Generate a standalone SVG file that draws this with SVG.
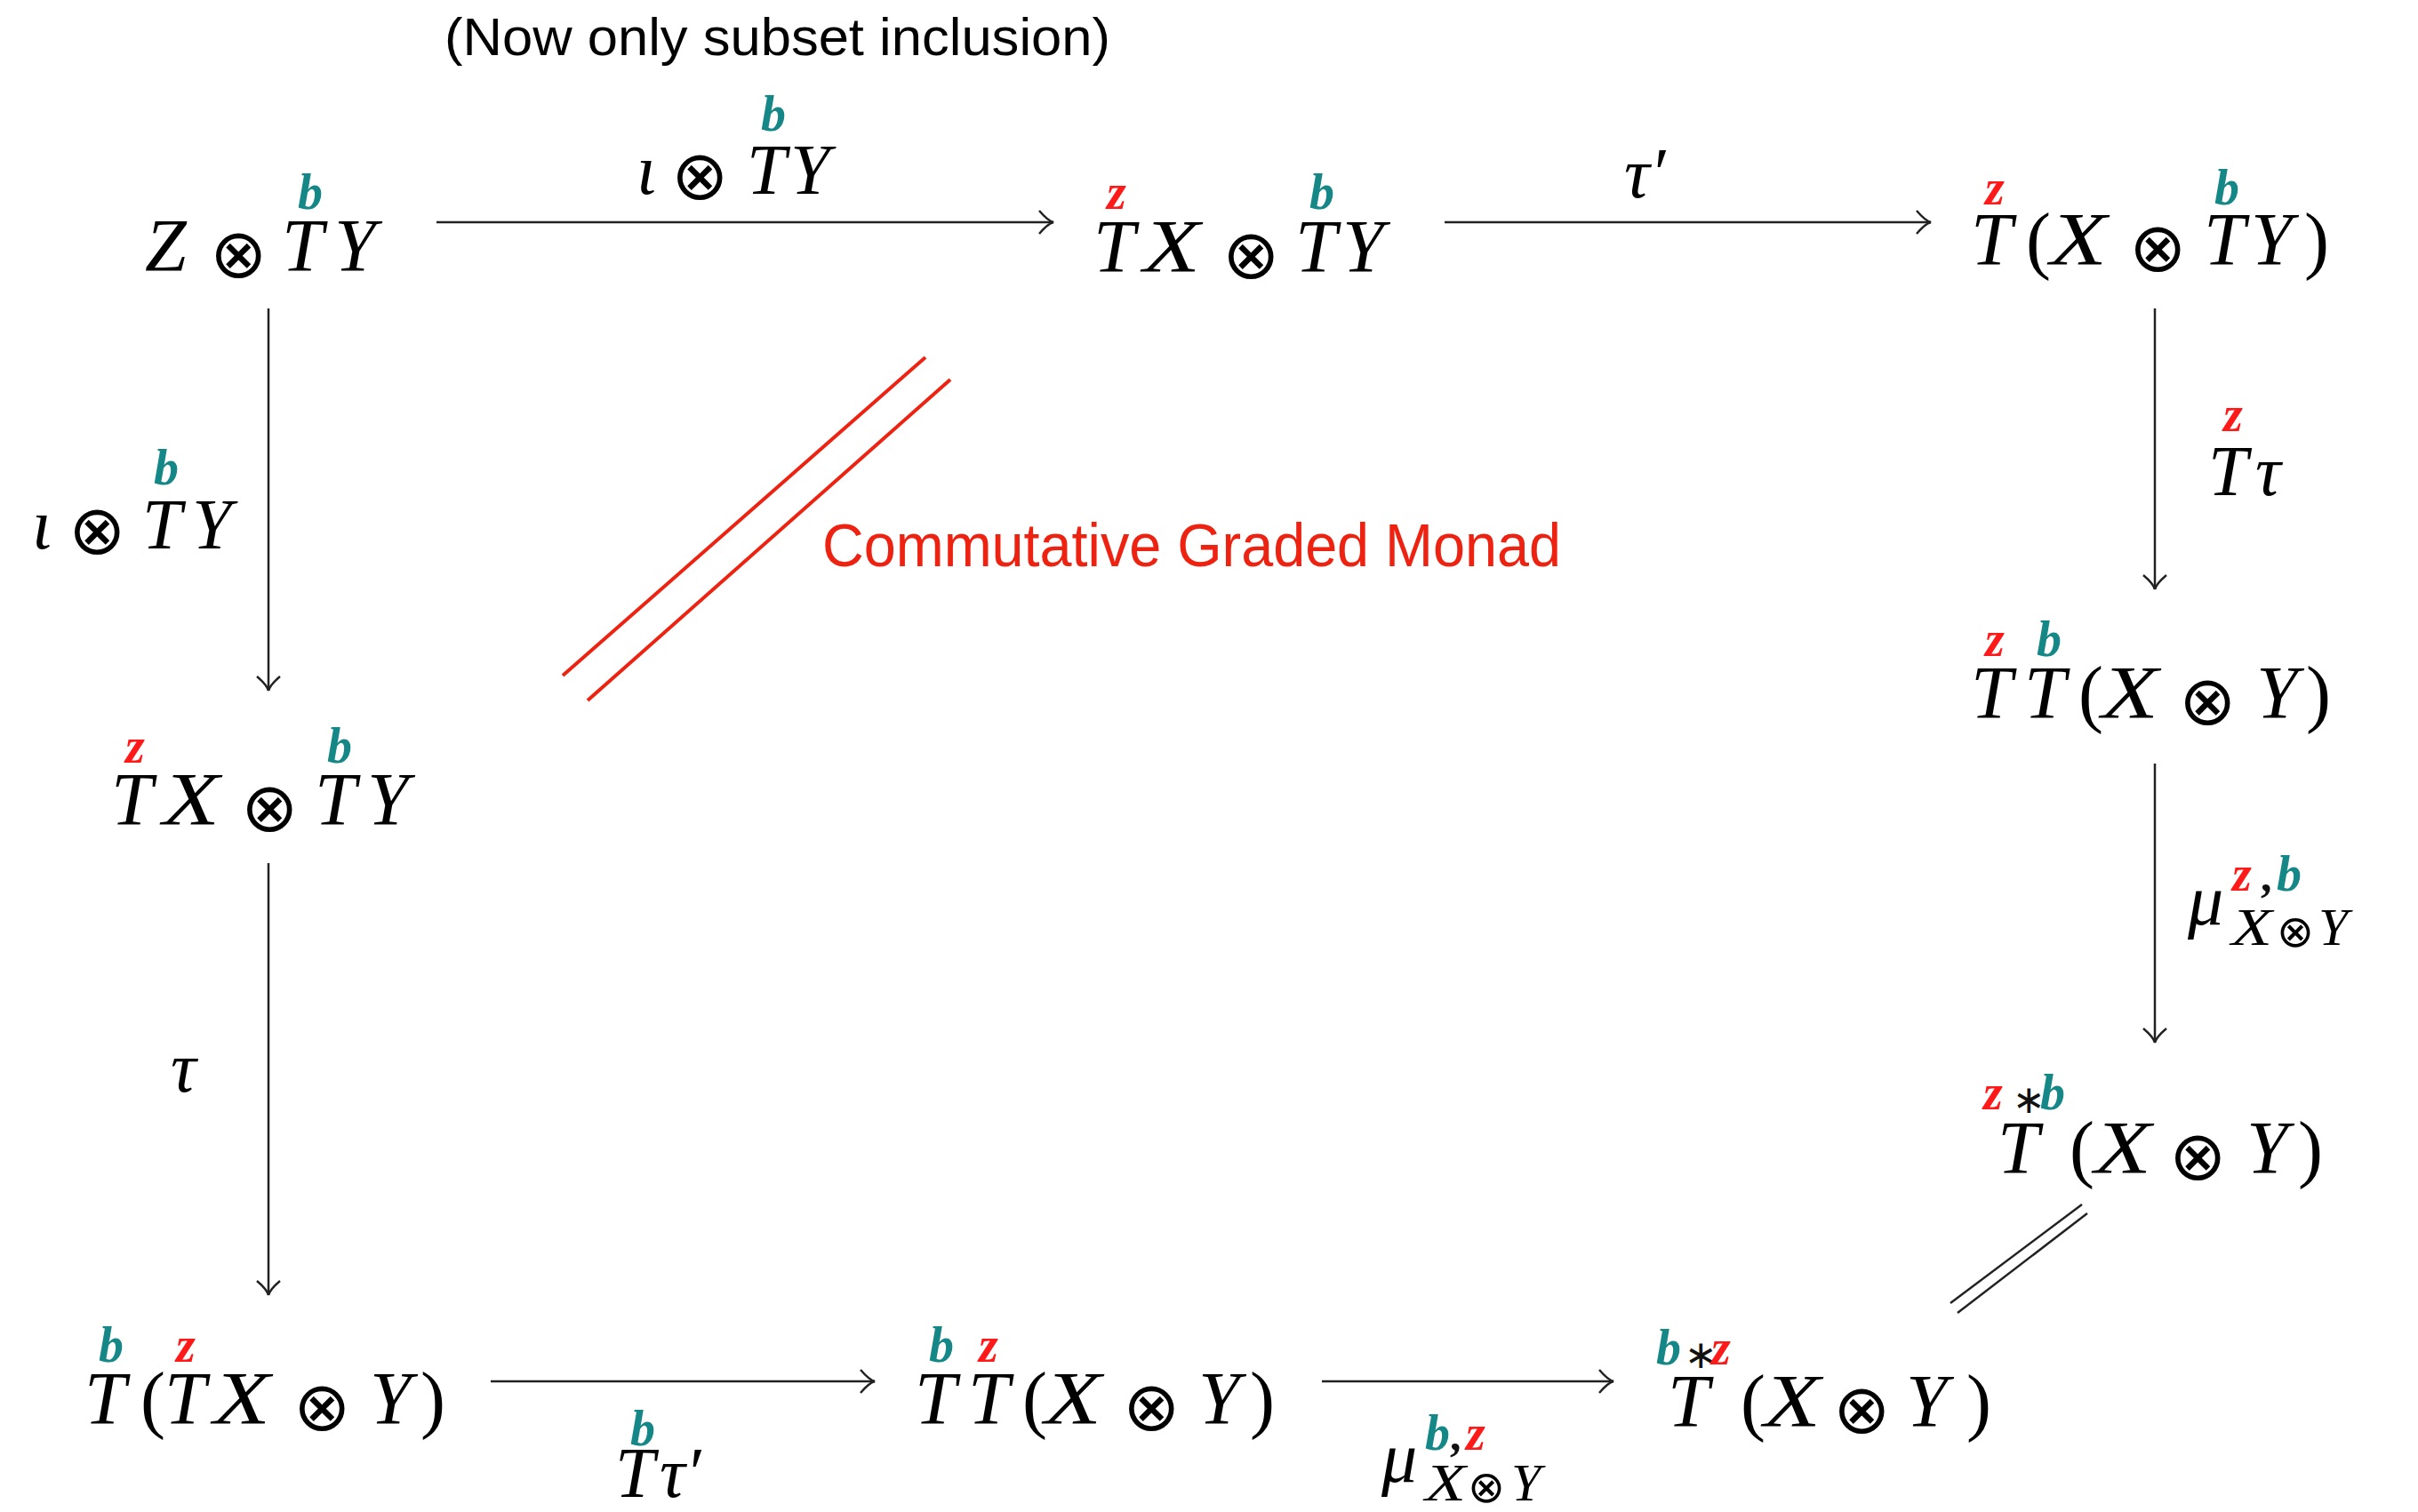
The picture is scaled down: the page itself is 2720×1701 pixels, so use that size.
<svg xmlns="http://www.w3.org/2000/svg" width="2720" height="1701" viewBox="0 0 2720 1701">
<defs>
<style>
.m{font-family:"Liberation Serif","DejaVu Serif",serif;font-style:italic;font-size:84px;fill:#000}
.u{font-family:"Liberation Serif","DejaVu Serif",serif;font-style:normal;font-size:84px;fill:#000}
.l{font-family:"Liberation Serif","DejaVu Serif",serif;font-style:italic;font-size:80px;fill:#000}
.s{font-family:"Liberation Serif","DejaVu Serif",serif;font-style:italic;font-size:60px;fill:#000}
.o{font-family:"DejaVu Sans",sans-serif;font-style:normal;font-size:77px;fill:#000}
.os{font-family:"DejaVu Sans",sans-serif;font-style:normal;font-size:50px;fill:#000}
.b{font-family:"Liberation Serif","DejaVu Serif",serif;font-style:italic;font-weight:bold;font-size:56px;fill:#168787}
.z{font-family:"Liberation Serif","DejaVu Serif",serif;font-style:italic;font-weight:bold;font-size:56px;fill:#ff1a1a}
.k{font-family:"Liberation Serif","DejaVu Serif",serif;font-style:normal;font-weight:bold;font-size:50px;fill:#111}
.st{font-family:"DejaVu Sans",sans-serif;font-style:normal;font-size:44px;fill:#111}
.ar{stroke:#222;stroke-width:2.5;fill:none;marker-end:url(#ah)}
.red{stroke:#ee2211;stroke-width:4;fill:none}
.dl{stroke:#222;stroke-width:2.5;fill:none}
.note{font-family:"Liberation Sans","Arial",sans-serif;font-size:60px;fill:#000}
.rnote{font-family:"Liberation Sans","Arial",sans-serif;font-size:68px;fill:#ee2211}
</style>
<marker id="ah" markerUnits="userSpaceOnUse" markerWidth="40" markerHeight="40" viewBox="-20 -20 40 40" refX="0" refY="0" orient="auto">
<path d="M -16 -13 C -10 -6 -4 -1 0 0 C -4 1 -10 6 -16 13" stroke="#222" stroke-width="2.5" fill="none"/>
</marker>
</defs>
<rect width="2720" height="1701" fill="#fff"/>

<text class="note" x="500" y="62" textLength="749" lengthAdjust="spacingAndGlyphs">(Now only subset inclusion)</text>

<g id="connectors">
<line class="ar" x1="491" y1="250" x2="1185" y2="250"/>
<line class="ar" x1="1625" y1="250" x2="2172" y2="250"/>
<line class="ar" x1="2424" y1="347" x2="2424" y2="663"/>
<line class="ar" x1="2424" y1="859" x2="2424" y2="1173"/>
<line class="ar" x1="302" y1="347" x2="302" y2="777"/>
<line class="ar" x1="302" y1="971" x2="302" y2="1457"/>
<line class="ar" x1="552" y1="1554" x2="984" y2="1554"/>
<line class="ar" x1="1487" y1="1554" x2="1815" y2="1554"/>
<line class="dl" x1="2342" y1="1355" x2="2194" y2="1466"/>
<line class="dl" x1="2348" y1="1365" x2="2202" y2="1477"/>
</g>

<g id="labels">
<g id="lab-top1">
<text class="l" x="716" y="218">ι</text>
<text class="o" x="755" y="224">⊗</text>
<text class="l" x="840" y="218">T</text>
<text class="l" x="889" y="218">Y</text>
<text class="b" x="856" y="147">b</text>
</g>
<g id="lab-top2">
<text class="l" x="1827" y="222">τ′</text>
</g>
<g id="lab-right1">
<text class="l" x="2484" y="557">T</text>
<text class="l" x="2537" y="557">τ</text>
<text class="z" x="2501" y="485">z</text>
</g>
<g id="lab-right2">
<text class="l" x="2461" y="1040">μ</text>
<text class="s" x="2510" y="1063" textLength="46" lengthAdjust="spacingAndGlyphs">X</text>
<text class="os" x="2561" y="1065">⊗</text>
<text class="s" x="2608" y="1063">Y</text>
<text class="z" x="2511" y="1002">z</text>
<text class="k" x="2543" y="1002">,</text>
<text class="b" x="2561" y="1002">b</text>
</g>
<g id="lab-left1">
<text class="l" x="36" y="617">ι</text>
<text class="o" x="77" y="623">⊗</text>
<text class="l" x="160" y="617">T</text>
<text class="l" x="216" y="617">Y</text>
<text class="b" x="173" y="545">b</text>
</g>
<g id="lab-left2">
<text class="l" x="192" y="1228">τ</text>
</g>
<g id="lab-bot1">
<text class="l" x="692" y="1684">T</text>
<text class="l" x="742" y="1684">τ′</text>
<text class="b" x="709" y="1626">b</text>
</g>
<g id="lab-bot2">
<text class="l" x="1554" y="1667">μ</text>
<text class="s" x="1603" y="1688" textLength="46" lengthAdjust="spacingAndGlyphs">X</text>
<text class="os" x="1651" y="1690">⊗</text>
<text class="s" x="1700" y="1688">Y</text>
<text class="b" x="1603" y="1631">b</text>
<text class="k" x="1631" y="1631">,</text>
<text class="z" x="1649" y="1631">z</text>
</g>
</g>

<g id="nodeA">
<text class="m" x="163" y="305">Z</text>
<text class="o" x="236" y="312">⊗</text>
<text class="m" x="317" y="305">T</text>
<text class="m" x="376" y="305">Y</text>
<text class="b" x="335" y="235">b</text>
</g>

<g id="nodeB">
<text class="m" x="1230" y="306">T</text>
<text class="m" x="1286" y="306" textLength="64" lengthAdjust="spacingAndGlyphs">X</text>
<text class="o" x="1375" y="313">⊗</text>
<text class="m" x="1457" y="306">T</text>
<text class="m" x="1510" y="306">Y</text>
<text class="z" x="1245" y="235">z</text>
<text class="b" x="1473" y="235">b</text>
</g>

<g id="nodeC">
<text class="m" x="2217" y="298">T</text>
<text class="u" x="2279" y="298">(</text>
<text class="m" x="2306" y="298" textLength="64" lengthAdjust="spacingAndGlyphs">X</text>
<text class="o" x="2395" y="305">⊗</text>
<text class="m" x="2479" y="298">T</text>
<text class="m" x="2532" y="298">Y</text>
<text class="u" x="2592" y="298">)</text>
<text class="z" x="2233" y="230">z</text>
<text class="b" x="2491" y="230">b</text>
</g>

<g id="nodeD">
<text class="m" x="2217" y="808">T</text>
<text class="m" x="2277" y="808">T</text>
<text class="u" x="2338" y="808">(</text>
<text class="m" x="2364" y="808" textLength="64" lengthAdjust="spacingAndGlyphs">X</text>
<text class="o" x="2451" y="815">⊗</text>
<text class="m" x="2538" y="808">Y</text>
<text class="u" x="2594" y="808">)</text>
<text class="z" x="2233" y="738">z</text>
<text class="b" x="2291" y="738">b</text>
</g>

<g id="nodeE">
<text class="m" x="2247" y="1320">T</text>
<text class="u" x="2328" y="1320">(</text>
<text class="m" x="2356" y="1320" textLength="64" lengthAdjust="spacingAndGlyphs">X</text>
<text class="o" x="2440" y="1327">⊗</text>
<text class="m" x="2527" y="1320">Y</text>
<text class="u" x="2585" y="1320">)</text>
<text class="z" x="2231" y="1248">z</text>
<text class="st" x="2264" y="1252">∗</text>
<text class="b" x="2295" y="1248">b</text>
</g>

<g id="nodeL2">
<text class="m" x="125" y="928">T</text>
<text class="m" x="183" y="928" textLength="64" lengthAdjust="spacingAndGlyphs">X</text>
<text class="o" x="271" y="935">⊗</text>
<text class="m" x="354" y="928">T</text>
<text class="m" x="413" y="928">Y</text>
<text class="z" x="141" y="858">z</text>
<text class="b" x="368" y="858">b</text>
</g>

<g id="nodeF">
<text class="m" x="95" y="1602">T</text>
<text class="u" x="158" y="1602">(</text>
<text class="m" x="185" y="1602">T</text>
<text class="m" x="240" y="1602" textLength="64" lengthAdjust="spacingAndGlyphs">X</text>
<text class="o" x="330" y="1609">⊗</text>
<text class="m" x="416" y="1602">Y</text>
<text class="u" x="473" y="1602">)</text>
<text class="b" x="111" y="1532">b</text>
<text class="z" x="198" y="1532">z</text>
</g>

<g id="nodeG">
<text class="m" x="1029" y="1602">T</text>
<text class="m" x="1089" y="1602">T</text>
<text class="u" x="1150" y="1602">(</text>
<text class="m" x="1175" y="1602" textLength="64" lengthAdjust="spacingAndGlyphs">X</text>
<text class="o" x="1263" y="1609">⊗</text>
<text class="m" x="1348" y="1602">Y</text>
<text class="u" x="1406" y="1602">)</text>
<text class="b" x="1045" y="1532">b</text>
<text class="z" x="1101" y="1532">z</text>
</g>

<g id="nodeH">
<text class="m" x="1876" y="1605">T</text>
<text class="u" x="1958" y="1605">(</text>
<text class="m" x="1984" y="1605" textLength="64" lengthAdjust="spacingAndGlyphs">X</text>
<text class="o" x="2062" y="1612">⊗</text>
<text class="m" x="2144" y="1605">Y</text>
<text class="u" x="2212" y="1605">)</text>
<text class="b" x="1863" y="1535">b</text>
<text class="st" x="1895" y="1539">∗</text>
<text class="z" x="1925" y="1535">z</text>
</g>

<g id="annotation">
<line class="red" x1="633" y1="760" x2="1041" y2="402"/>
<line class="red" x1="661" y1="788" x2="1069" y2="427"/>
<text class="rnote" x="925" y="637" textLength="831" lengthAdjust="spacingAndGlyphs">Commutative Graded Monad</text>
</g>
</svg>
